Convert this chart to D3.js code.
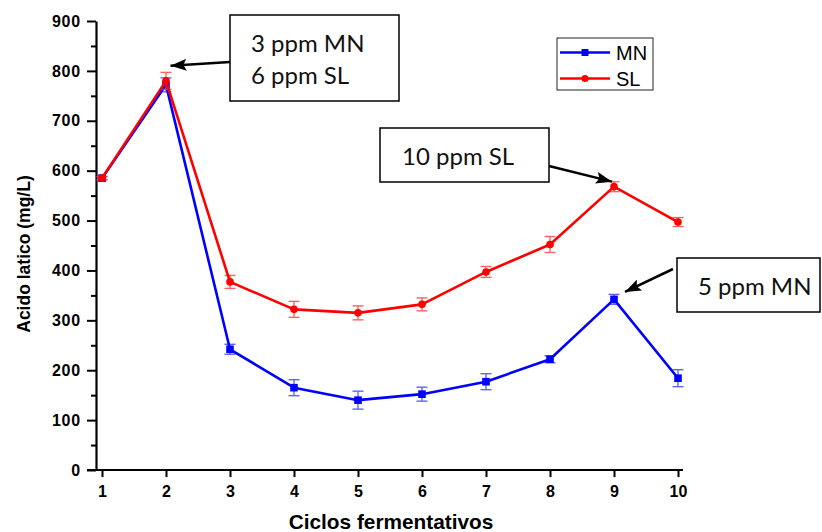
<!DOCTYPE html>
<html>
<head>
<meta charset="utf-8">
<script src="https://cdn.jsdelivr.net/npm/d3@7"></script>
<style>
  html, body { margin: 0; padding: 0; background: #fff; }
  svg { display: block; }
</style>
</head>
<body>
<svg id="chart" width="822" height="532"></svg>
<script>
// Lactic acid per fermentation cycle, two treatments with error bars
const cycles = [1, 2, 3, 4, 5, 6, 7, 8, 9, 10];
const mnValues = [585, 772, 242, 165, 140, 152, 177, 222, 342, 184];
const mnErrors = [3, 14, 10, 16, 18, 14, 16, 7, 10, 17];
const slValues = [585, 780, 377, 322, 315, 332, 397, 452, 568, 497];
const slErrors = [3, 17, 13, 16, 14, 13, 11, 16, 10, 9];
const yTicks = [0, 100, 200, 300, 400, 500, 600, 700, 800, 900];
const yMinorTicks = [50, 150, 250, 350, 450, 550, 650, 750, 850];
const seriesNames = ["MN", "SL"];
const annotations = [
  { lines: ["3 ppm MN", "6 ppm SL"], cycle: 2, series: "SL" },
  { lines: ["10 ppm SL"], cycle: 9, series: "SL" },
  { lines: ["5 ppm MN"], cycle: 9, series: "MN" }
];

const svg = d3.select("#chart");
const axisFont = "'Liberation Sans', Arial, sans-serif";
const noteFont = "Lato, 'Open Sans', sans-serif";

const x = d3.scaleLinear().domain([0.90625, 10.078]).range([96, 683]);
const y = d3.scaleLinear().domain([0, 900]).range([470, 21]);

const series = [
  { name: "MN", values: mnValues, errors: mnErrors, color: "#0000ff", bar: "#3d3dff", marker: "square" },
  { name: "SL", values: slValues, errors: slErrors, color: "#ff0000", bar: "#ff3d3d", marker: "circle" }
];

// ---- Axes ----
const yAxis = d3.axisLeft(y).tickValues(yTicks).tickSize(9).tickPadding(6).tickSizeOuter(0);
const gy = svg.append("g").attr("transform", "translate(96,0)").call(yAxis);
gy.select(".domain").attr("stroke", "#000").attr("stroke-width", 2.2);
gy.selectAll(".tick line").attr("stroke", "#000").attr("stroke-width", 2);
gy.selectAll(".tick text")
  .attr("font-family", axisFont).attr("font-weight", "bold")
  .attr("font-size", 16).attr("letter-spacing", 0.8).attr("fill", "#000");

const gyMinor = svg.append("g").attr("transform", "translate(96,0)")
  .call(d3.axisLeft(y).tickValues(yMinorTicks).tickSize(5).tickFormat("").tickSizeOuter(0));
gyMinor.select(".domain").remove();
gyMinor.selectAll(".tick line").attr("stroke", "#000").attr("stroke-width", 2);

const xAxis = d3.axisBottom(x).tickValues(cycles).tickSize(7).tickPadding(9).tickSizeOuter(0);
const gx = svg.append("g").attr("transform", "translate(0,470)").call(xAxis);
gx.select(".domain").attr("stroke", "#000").attr("stroke-width", 2.2)
  .attr("d", "M87,0H683");
gx.selectAll(".tick line").attr("stroke", "#000").attr("stroke-width", 2);
gx.selectAll(".tick text")
  .attr("font-family", axisFont).attr("font-weight", "bold")
  .attr("font-size", 16).attr("fill", "#000");

// Axis titles
svg.append("text")
  .attr("x", 391).attr("y", 529)
  .attr("text-anchor", "middle")
  .attr("font-family", axisFont).attr("font-weight", "bold").attr("font-size", 20.8)
  .text("Ciclos fermentativos");

svg.append("text")
  .attr("transform", "translate(30,254) rotate(-90)")
  .attr("text-anchor", "middle")
  .attr("font-family", axisFont).attr("font-weight", "bold").attr("font-size", 17.5)
  .text("Acido latico (mg/L)");

// ---- Series ----
const line = d3.line().x(d => x(d.c)).y(d => y(d.v));

series.forEach(s => {
  const pts = cycles.map((c, i) => ({ c, v: s.values[i], e: s.errors[i] }));
  const g = svg.append("g");

  // error bars
  const eb = g.append("g").attr("stroke", s.bar).attr("stroke-width", 1.4).attr("opacity", 0.8);
  pts.forEach(p => {
    const cx = x(p.c), y1 = y(p.v + p.e), y0 = y(p.v - p.e);
    eb.append("line").attr("x1", cx).attr("x2", cx).attr("y1", y1).attr("y2", y0);
    eb.append("line").attr("x1", cx - 5.5).attr("x2", cx + 5.5).attr("y1", y1).attr("y2", y1);
    eb.append("line").attr("x1", cx - 5.5).attr("x2", cx + 5.5).attr("y1", y0).attr("y2", y0);
  });

  g.append("path").datum(pts)
    .attr("fill", "none").attr("stroke", s.color).attr("stroke-width", 2.6)
    .attr("stroke-linejoin", "round")
    .attr("d", line);

  if (s.marker === "square") {
    g.selectAll("rect.pt").data(pts).join("rect")
      .attr("x", d => x(d.c) - 3.8).attr("y", d => y(d.v) - 3.8)
      .attr("width", 7.6).attr("height", 7.6).attr("fill", s.color);
  } else {
    g.selectAll("circle.pt").data(pts).join("circle")
      .attr("cx", d => x(d.c)).attr("cy", d => y(d.v)).attr("r", 3.8)
      .attr("fill", s.color);
  }
});

// ---- Legend ----
const lg = svg.append("g");
lg.append("rect").attr("x", 557).attr("y", 38).attr("width", 96).attr("height", 52)
  .attr("fill", "#fff").attr("stroke", "#222").attr("stroke-width", 1);
series.forEach((s, i) => {
  const ly = 52.5 + i * 26;
  lg.append("line").attr("x1", 560).attr("x2", 610).attr("y1", ly).attr("y2", ly)
    .attr("stroke", s.color).attr("stroke-width", 2.6);
  if (s.marker === "square") {
    lg.append("rect").attr("x", 581.5).attr("y", ly - 3.5).attr("width", 7).attr("height", 7).attr("fill", s.color);
  } else {
    lg.append("circle").attr("cx", 585).attr("cy", ly).attr("r", 3.5).attr("fill", s.color);
  }
  lg.append("text").attr("x", 616).attr("y", ly + 7)
    .attr("font-family", axisFont).attr("font-size", 20).attr("fill", "#000")
    .text(seriesNames[i]);
});

// ---- Annotations ----
const defs = svg.append("defs");
defs.append("marker").attr("id", "arrowhead")
  .attr("viewBox", "0 0 16 12").attr("refX", 16).attr("refY", 6)
  .attr("markerWidth", 16).attr("markerHeight", 12)
  .attr("markerUnits", "userSpaceOnUse").attr("orient", "auto")
  .append("path").attr("d", "M0,0L16,6L0,12L3,6Z").attr("fill", "#000");

const valueOf = (name, cycle) => {
  const s = series.find(d => d.name === name);
  return s.values[cycles.indexOf(cycle)];
};

// box geometry and arrow tip offsets relative to the annotated point
const boxLayout = [
  { x: 230, y: 15, w: 169, h: 86, tx: 251, ty: [52, 84], from: [230, 62], off: [4.5, -15] },
  { x: 380, y: 128, w: 169, h: 54, tx: 402, ty: [165], from: [549, 166], off: [-2, -5] },
  { x: 677, y: 258, w: 143, h: 54, tx: 698, ty: [295], from: [673, 269], off: [11, -7.5] }
];

annotations.forEach((a, i) => {
  const b = boxLayout[i];
  const g = svg.append("g");
  const px = x(a.cycle), py = y(valueOf(a.series, a.cycle));
  g.append("line")
    .attr("x1", b.from[0]).attr("y1", b.from[1])
    .attr("x2", px + b.off[0]).attr("y2", py + b.off[1])
    .attr("stroke", "#000").attr("stroke-width", 2.5)
    .attr("marker-end", "url(#arrowhead)");
  g.append("rect").attr("x", b.x).attr("y", b.y).attr("width", b.w).attr("height", b.h)
    .attr("fill", "#fff").attr("stroke", "#000").attr("stroke-width", 1.5);
  a.lines.forEach((t, j) => {
    g.append("text").attr("x", b.tx).attr("y", b.ty[j])
      .attr("font-family", noteFont).attr("font-size", 24).attr("fill", "#111")
      .text(t);
  });
});
</script>
</body>
</html>
